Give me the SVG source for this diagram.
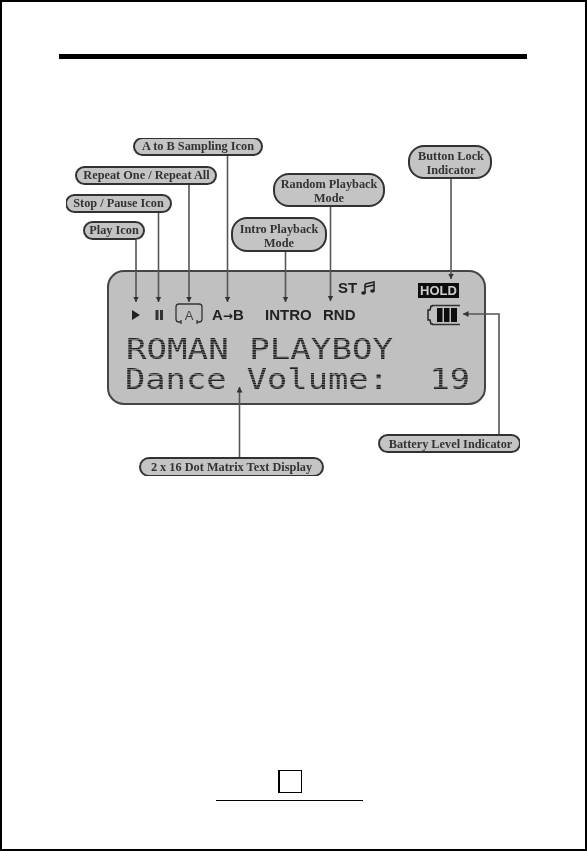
<svg xmlns="http://www.w3.org/2000/svg" width="587" height="851" viewBox="0 0 587 851">
<style>
.pill{fill:#c4c4c4;stroke:#333;stroke-width:2}
.lab{font-family:"Liberation Serif",serif;font-weight:bold;font-size:12.3px;fill:#333;text-anchor:middle}
.ic{font-family:"Liberation Sans",sans-serif;font-weight:bold;font-size:15px;fill:#222}
.dot{font-family:"DejaVu Sans Mono","Liberation Mono",monospace;font-size:27.500px;fill:url(#dots)}
.ln{stroke:#555;stroke-width:1.600;fill:none}
</style>
<defs>
<marker id="a" markerUnits="userSpaceOnUse" markerWidth="7" markerHeight="7" refX="5.500" refY="3" orient="auto"><path d="M0 0L5.500 3L0 6z" fill="#333"/></marker>
<filter id="soft" x="0" y="0" width="1" height="1"><feGaussianBlur stdDeviation="0.4"/></filter>
<pattern id="dots" patternUnits="userSpaceOnUse" width="2.500" height="2.500"><rect width="2.500" height="2" fill="#222"/></pattern>
</defs>
<rect width="587" height="851" fill="#fff"/>
<path d="M0 0H587V851H0z M2 2V849H585V2z" fill="#000" fill-rule="evenodd"/>
<rect x="59" y="54" width="468" height="5" fill="#000"/>
<g filter="url(#soft)">
<g id="display"><rect x="108" y="271" width="377" height="133" rx="16" fill="#c0c0c0" stroke="#444" stroke-width="2"/>
<path d="M132 310L140 315L132 320z" fill="#222"/><path d="M155.500 310h3v10h-3zM160 310h3v10h-3z" fill="#333"/>
<path d="M181 322h-2q-3 0-3-3v-12q0-3 3-3h20q3 0 3 3v12q0 3-3 3h-2M181 320v4M197 320v4" fill="none" stroke="#333" stroke-width="1.300"/>
<text x="189" y="320" font-family="Liberation Sans,sans-serif" font-size="13" fill="#444" text-anchor="middle">A</text>
<text class="ic" x="212" y="320">A<tspan font-family="DejaVu Sans,sans-serif" font-size="12">→</tspan>B</text><text class="ic" x="265" y="320">INTRO</text><text class="ic" x="323" y="320">RND</text><text class="ic" x="338" y="293">ST</text>
<path d="M365 284l9-2v9M365 284v9M365 287l9-2" fill="none" stroke="#222" stroke-width="1.600"/><ellipse cx="363.500" cy="293" rx="2.300" ry="1.700" fill="#222"/><ellipse cx="372.500" cy="291" rx="2.300" ry="1.700" fill="#222"/>
<rect x="418" y="283" width="41" height="15" fill="#111"/><text x="438.500" y="295" font-family="Liberation Sans,sans-serif" font-weight="bold" font-size="13" fill="#ccc" text-anchor="middle">HOLD</text>
<path d="M433 306h-2l-1 4h-2v10h2l1 4h2" fill="none" stroke="#222" stroke-width="1.500"/><path d="M432 305.500h28M432 324.500h28" stroke="#333" stroke-width="1.500"/><path d="M437 308h5.500v14h-5.500zM444 308h5.500v14h-5.500zM451 308h6v14h-6z" fill="#111"/>
<text class="dot" x="126" y="359" textLength="267" lengthAdjust="spacingAndGlyphs">ROMAN PLAYBOY</text>
<text class="dot" x="125" y="389" textLength="345" lengthAdjust="spacingAndGlyphs" xml:space="preserve">Dance Volume:  19</text></g>
<g id="connectors">
<path class="ln" marker-end="url(#a)" d="M136 240V302"/><path class="ln" marker-end="url(#a)" d="M158.500 213V302"/><path class="ln" marker-end="url(#a)" d="M189 185V302"/><path class="ln" marker-end="url(#a)" d="M227.500 156V302"/><path class="ln" marker-end="url(#a)" d="M285.500 252V302"/><path class="ln" marker-end="url(#a)" d="M330.500 207V301"/><path class="ln" marker-end="url(#a)" d="M451 179V279"/><path class="ln" marker-end="url(#a)" d="M499 434V314H463"/><path class="ln" marker-end="url(#a)" d="M239.500 457V387"/>
</g>
<g id="n1"><rect x="84" y="222" width="60" height="17" rx="8.500" class="pill"/><text class="lab" x="114" y="234">Play Icon</text></g>
<g id="n2"><rect x="66" y="195" width="105" height="17" rx="8.500" class="pill"/><text class="lab" x="118.500" y="207">Stop / Pause Icon</text></g>
<g id="n3"><rect x="76" y="167" width="140" height="17" rx="8.500" class="pill"/><text class="lab" x="146.500" y="179">Repeat One / Repeat All</text></g>
<g id="n4"><rect x="134" y="138" width="128" height="17" rx="8.500" class="pill"/><text class="lab" x="198" y="150">A to B Sampling Icon</text></g>
<g id="n5"><rect x="232" y="218" width="94" height="33" rx="15" class="pill"/><text class="lab" x="279" y="233">Intro Playback</text><text class="lab" x="279" y="247">Mode</text></g>
<g id="n6"><rect x="274" y="174" width="110" height="32" rx="15" class="pill"/><text class="lab" x="329" y="188">Random Playback</text><text class="lab" x="329" y="202">Mode</text></g>
<g id="n7"><rect x="409" y="146" width="82" height="32" rx="15" class="pill"/><text class="lab" x="451" y="160">Button Lock</text><text class="lab" x="451" y="174">Indicator</text></g>
<g id="n8"><rect x="379" y="435" width="141" height="17" rx="8.500" class="pill"/><text class="lab" x="450.500" y="448">Battery Level Indicator</text></g>
<g id="n9"><rect x="140" y="458" width="183" height="18" rx="9" class="pill"/><text class="lab" x="231.500" y="471">2 x 16 Dot Matrix Text Display</text></g>
</g>
<path d="M278 770H302V793H278zM280 772V792H301V771H280z" fill="#000" fill-rule="evenodd"/>
<rect x="216" y="800" width="147" height="1" fill="#000"/>
</svg>
